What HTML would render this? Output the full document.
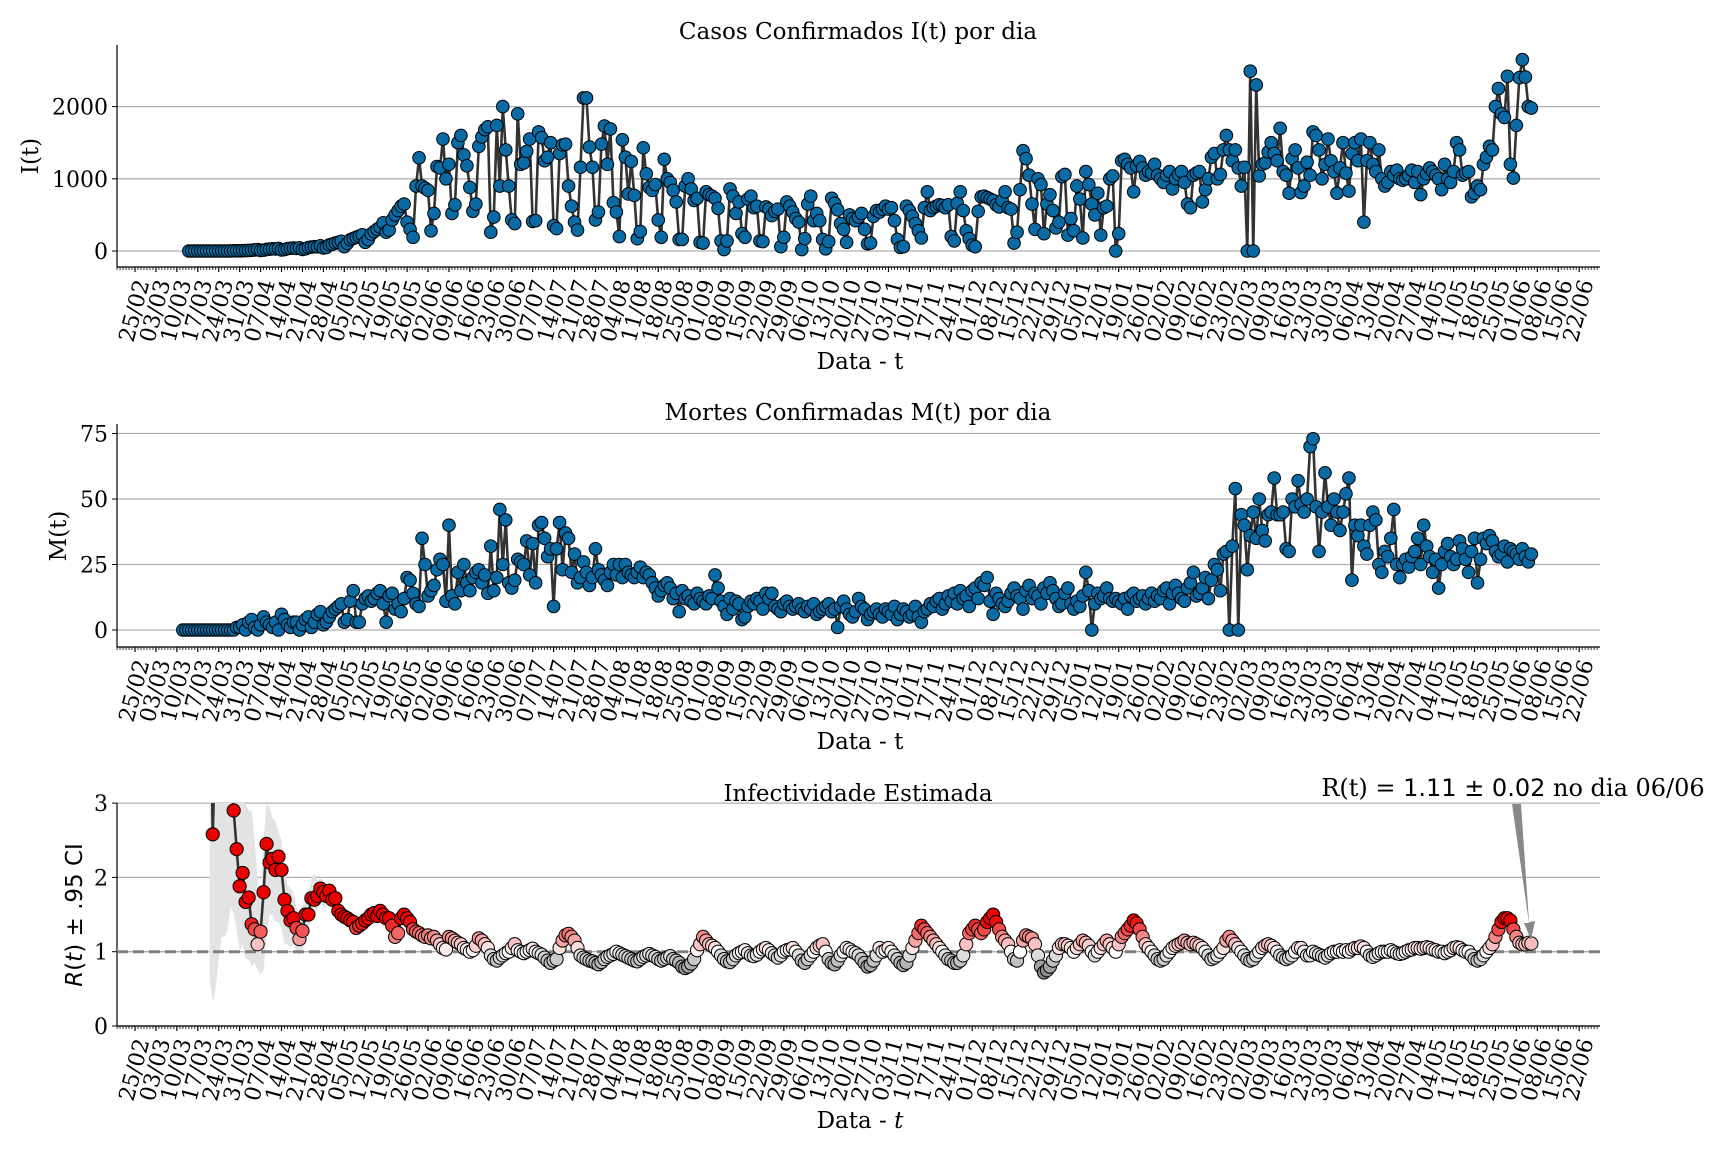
<!DOCTYPE html>
<html><head><meta charset="utf-8"><style>
html,body{margin:0;padding:0;background:#fff;}
svg{display:block;font-family:"DejaVu Serif","Liberation Serif",serif;}
</style></head><body>
<svg id="chart" xmlns="http://www.w3.org/2000/svg" width="1728" height="1152" viewBox="0 0 1728 1152">
<defs><clipPath id="clipR"><rect x="117" y="803" width="1483" height="223"/></clipPath></defs>
<rect width="1728" height="1152" fill="#fff"/>
<text x="858" y="39" font-size="23" text-anchor="middle">Casos Confirmados I(t) por dia</text>
<text x="858" y="420" font-size="23" text-anchor="middle">Mortes Confirmadas M(t) por dia</text>
<text x="858" y="801" font-size="23" text-anchor="middle">Infectividade Estimada</text>
<text transform="translate(38,156) rotate(-90)" font-size="23" text-anchor="middle">I(t)</text>
<text transform="translate(66,536) rotate(-90)" font-size="23" text-anchor="middle">M(t)</text>
<text transform="translate(82,915) rotate(-90)" font-size="23" text-anchor="middle" font-family="DejaVu Sans, sans-serif"><tspan font-style="italic">R</tspan>(<tspan font-style="italic">t</tspan>) ± .95 CI</text>
<text x="860" y="369" font-size="23" text-anchor="middle">Data - t</text>
<text x="860" y="749" font-size="23" text-anchor="middle">Data - t</text>
<text x="860" y="1128" font-size="23" text-anchor="middle">Data - <tspan font-style="italic">t</tspan></text>
<g id="layer"></g>
<polygon points="1512,804 1521,804 1529,922 1535,921 1531,940 1524,923 1529,923" fill="#888"/>
<text x="1513" y="796" font-size="24" text-anchor="middle">R(t) = <tspan font-family="DejaVu Sans, sans-serif">1.11 ± 0.02</tspan> no dia 06/06</text>
</svg>
<script>
// ---- data (daily, ending 06/06/2021) ----
const casesValues = [
0,0,0,0,0,0,0,0,0,0,0,0,0,0,1,2,2,3,5,6,8,
10,15,20,8,12,22,25,30,28,35,15,20,32,38,40,36,45,22,30,48,55,60,58,72,42,50,85,95,110,
120,135,60,105,155,175,190,205,225,120,160,235,270,300,330,390,260,290,430,500,
560,620,650,400,300,190,900,1290,900,870,840,280,
520,1170,1150,1550,1000,1200,520,640,1500,1600,1330,1180,880,550,650,1450,1580,1680,1720,260,470,1740,900,2000,1400,900,430,380,1900,1200,
1220,1380,1550,410,420,1650,1570,1250,1300,1500,350,310,1350,1470,1480,900,620,400,290,1160,2120,2120,1440,1160,430,540,1480,1730,1200,1690,670,
540,200,1540,1300,790,1240,770,170,270,1430,1070,880,840,920,430,190,1270,1000,950,840,680,160,160,900,1000,860,700,730,120,110,820,
780,760,730,590,140,20,140,860,760,520,680,240,190,720,760,600,620,140,130,610,580,490,550,580,60,190,680,620,540,450,
400,20,170,650,760,420,520,420,160,30,130,730,660,570,380,300,120,500,450,420,470,520,300,100,110,480,560,540,580,620,
580,600,420,160,50,60,620,560,480,380,280,180,600,820,560,600,620,640,630,600,640,200,140,660,820,560,280,170,80,60,
550,750,760,740,720,700,640,610,700,820,600,580,110,260,850,1390,1280,1050,650,300,1000,920,240,650,780,560,320,400,1030,1060,220,
450,280,900,720,180,1100,920,650,500,800,220,600,620,1000,1040,0,240,1250,1270,1200,1150,820,1180,1240,1150,1050,1100,1080,1200,1050,1000,
950,1050,1100,860,1000,1060,1100,950,650,600,1050,1080,1100,680,850,1000,1300,1350,1000,1060,1400,1600,1400,1250,1400,1150,900,1160,
0,2490,0,2300,1040,1200,1220,1370,1500,1350,1250,1700,1100,1050,800,1280,1400,1150,810,900,1230,1050,1650,1600,1400,1000,1200,1550,1250,1100,800,
1150,1500,1080,830,1350,1500,1250,1550,400,1250,1500,1200,1100,1400,1000,900,950,1100,1050,1120,1000,980,1000,1050,1120,950,1100,780,1000,1070,
1150,1100,1050,1000,850,1200,1000,950,1100,1500,1400,1050,1080,1100,750,800,900,850,1200,1300,1450,1400,2000,2250,1900,1850,2420,1200,1010,1740,2400,2650,2410,2000,1980];
const deathsValues = [
0,0,0,0,0,0,0,0,0,0,0,0,0,0,0,0,0,0,1,1,
2,0,3,4,1,0,2,5,3,2,1,3,0,6,4,2,1,3,3,0,2,4,5,1,3,6,7,2,3,5,
7,8,9,10,3,4,11,15,3,3,10,12,13,11,12,14,15,10,3,13,14,8,10,7,12,20,19,14,10,9,35,
25,13,15,17,23,27,25,11,40,13,10,22,15,25,18,15,20,22,23,18,21,14,32,15,20,46,25,42,18,16,
19,27,26,25,34,21,33,18,40,41,35,28,31,9,31,41,23,37,35,22,29,18,20,26,22,17,20,31,23,21,19,
17,22,25,21,25,20,25,22,21,20,22,24,20,22,21,18,16,13,15,17,18,16,12,14,7,15,12,13,11,10,14,
12,11,10,13,12,21,16,11,9,6,12,8,11,10,4,5,9,11,10,12,11,8,14,12,14,9,8,7,10,11,
9,8,9,10,8,7,9,8,10,6,7,8,9,10,7,8,1,9,11,8,6,5,7,12,9,8,4,6,7,8,6,
5,8,7,6,9,4,6,8,7,5,6,9,5,3,7,8,10,9,11,12,8,10,13,11,14,10,15,12,13,9,
15,16,12,18,17,20,11,6,14,12,10,9,11,14,16,13,12,8,15,17,12,14,13,10,16,14,18,15,12,9,10,
14,16,10,8,11,9,13,22,15,0,10,14,12,13,16,12,11,12,11,10,12,8,13,14,11,12,13,10,12,14,11,
13,12,15,16,10,14,17,14,12,11,16,18,22,13,14,16,20,12,19,25,23,15,29,30,0,32,54,0,
44,40,23,36,45,35,50,38,34,44,45,58,44,44,45,31,30,50,47,57,48,45,50,70,73,47,30,45,60,47,40,
50,45,38,45,52,58,19,40,36,40,32,29,40,45,42,25,22,30,28,35,46,25,20,25,27,24,28,30,35,25,
40,32,28,22,27,16,25,30,33,28,25,27,34,31,27,22,30,35,18,27,35,33,36,34,30,28,29,32,26,31,30,
29,27,31,28,26,29];
const rValues = [
5.0,2.58,4.0,5.0,5.0,4.5,4.0,3.5,2.9,2.38,
1.88,2.06,1.67,1.73,1.37,1.3,1.1,1.27,1.8,2.45,
2.2,2.25,2.1,2.28,2.1,1.7,1.55,1.42,1.45,1.32,
1.17,1.28,1.5,1.5,1.72,1.7,1.75,1.85,1.8,1.75,
1.82,1.7,1.72,1.55,1.5,1.47,1.45,1.42,1.4,1.32,
1.35,1.38,1.42,1.45,1.5,1.52,1.48,1.55,1.5,1.45,
1.45,1.35,1.2,1.25,1.45,1.5,1.45,1.4,1.3,1.27,
1.25,1.22,1.2,1.22,1.18,1.2,1.15,1.1,1.05,1.03,
1.2,1.18,1.15,1.12,1.1,1.05,1.03,1.0,1.02,1.08,1.18,1.15,1.1,1.05,0.95,0.9,0.88,0.92,0.95,0.98,1.0,1.05,
1.1,1.02,1.0,0.98,1.0,1.02,1.04,1.0,0.98,0.96,0.92,0.88,0.85,0.88,0.9,1.05,1.15,1.22,1.24,1.2,1.15,1.05,0.95,0.92,0.9,0.88,0.87,0.85,0.83,0.86,0.9,
0.93,0.95,0.97,1.0,0.98,0.96,0.94,0.92,0.9,0.88,0.87,0.9,0.93,0.95,0.97,0.95,0.93,0.9,0.88,0.9,0.92,0.94,0.9,0.88,0.85,0.8,0.78,0.8,0.84,0.9,1.02,
1.1,1.2,1.15,1.1,1.08,1.05,1.0,0.95,0.9,0.87,0.86,0.9,0.95,0.98,1.0,1.02,0.98,0.95,0.94,0.96,1.0,1.03,1.05,1.02,0.98,0.95,0.92,0.95,1.0,1.02,
1.03,1.05,1.0,0.95,0.88,0.85,0.9,0.95,1.0,1.05,1.08,1.1,1.0,0.9,0.85,0.83,0.88,0.95,1.0,1.05,1.03,1.0,0.98,0.95,0.9,0.85,0.8,0.82,0.88,0.95,1.05,
1.0,1.02,1.05,1.0,0.95,0.9,0.85,0.82,0.85,0.95,1.05,1.15,1.25,1.35,1.3,1.25,1.2,1.15,1.1,1.05,1.0,0.95,0.9,0.88,0.85,0.85,0.88,0.95,1.1,1.25,
1.3,1.35,1.3,1.25,1.3,1.4,1.45,1.5,1.4,1.3,1.2,1.15,1.1,1.0,0.9,0.88,1.0,1.15,1.22,1.2,1.18,1.1,0.95,0.8,0.72,0.75,0.8,0.88,0.95,1.05,1.1,
1.1,1.08,1.05,1.0,1.05,1.1,1.15,1.12,1.08,1.0,0.95,1.0,1.05,1.1,1.15,1.1,1.05,1.0,1.1,1.2,1.25,1.3,1.35,1.42,1.38,1.3,1.2,1.1,1.05,1.0,0.95,
0.9,0.88,0.9,0.95,1.0,1.05,1.08,1.1,1.12,1.15,1.12,1.1,1.12,1.1,1.08,1.05,1.0,0.95,0.9,0.92,0.95,1.0,1.05,1.15,1.2,1.15,1.1,1.05,
1.0,0.95,0.9,0.88,0.9,0.95,1.0,1.05,1.08,1.1,1.08,1.05,1.0,0.95,0.92,0.9,0.92,0.95,1.0,1.05,1.05,1.0,0.95,0.95,1.0,0.98,0.96,0.94,0.92,0.95,0.98,
1.0,1.0,1.02,1.0,1.02,1.0,1.03,1.05,1.05,1.07,1.05,1.0,0.95,0.93,0.95,0.98,1.0,1.0,1.0,1.02,1.0,0.98,0.97,0.98,1.0,1.02,1.03,1.05,1.05,1.04,
1.05,1.06,1.05,1.03,1.02,1.0,1.0,0.98,1.0,1.02,1.05,1.06,1.05,1.02,1.0,1.0,0.95,0.9,0.88,0.9,0.95,1.0,1.05,1.1,1.2,1.3,1.4,1.45,1.45,1.42,1.3,
1.2,1.12,1.1,1.1,1.12,1.11];
const ciLow = [0.6,0.33,0.5,0.9,1.2,1.2,1.3,1.6,1.5,1.3,1.0,1.1,0.9,0.9,0.8,0.85,0.75,0.7,0.75,1.2,1.5,1.5,1.4,1.4,1.3,1.1,1.1,1.05,1.1,1.0,0.95,1.05,1.25,1.3,1.45,1.5,1.55,1.65,1.6,1.6];
const ciHigh = [5,5,5,5,5,5,5,5,5,4,3.5,3.3,3.0,2.9,2.9,2.5,2.0,1.7,2.5,3.0,2.95,2.8,2.75,2.6,2.5,2.1,1.9,1.85,1.8,1.6,1.5,1.6,1.8,1.8,2.0,2.05,1.95,2.0,1.95,1.9];
const casesTicks = [0,1000,2000];
const deathsTicks = [0,25,50,75];
const rTicks = [0,1,2,3];
const lastDayOffset = 467; // 06/06/2021 counted from 25/02/2020

// ---- layout ----
const NS = "http://www.w3.org/2000/svg";
const layer = document.getElementById('layer');
const X0 = 135, DX = 2.99, LEFT = 117, RIGHT = 1600;
function xScale(off){ return X0 + off*DX; }
const panels = [
 {key:'cases', top:45, bot:267, y:v=>251 - v*0.0722, ticks:casesTicks, data:casesValues},
 {key:'deaths', top:424, bot:647, y:v=>630 - v*2.62, ticks:deathsTicks, data:deathsValues},
 {key:'r', top:803, bot:1026, y:v=>1026 - v*74.3, ticks:rTicks, data:rValues}
];
function mk(tag, attrs, parent){
  const e = document.createElementNS(NS, tag);
  for (const k in attrs) e.setAttribute(k, attrs[k]);
  (parent||layer).appendChild(e); return e;
}
function dateLabel(off){
  const d = new Date(Date.UTC(2020,1,25) + off*86400000);
  return String(d.getUTCDate()).padStart(2,'0') + '/' + String(d.getUTCMonth()+1).padStart(2,'0');
}
panels.forEach(p=>{
  const g = mk('g', {});
  
  
  p.ticks.forEach(t=>{
    const y = p.y(t);
    const gl = mk('line', {x1:LEFT, x2:RIGHT, y1:y, y2:y, stroke:'#b0b0b0', 'stroke-width':1.3}, g);
    
    
    mk('line', {x1:LEFT-5, x2:LEFT, y1:y, y2:y, stroke:'#000', 'stroke-width':1}, g);
    const tl = mk('text', {x:LEFT-9, y:y+8, 'font-size':22, 'text-anchor':'end'}, g);
    tl.textContent = t;
    
    
  });
  for (let off=-6; off<=489; off++){
    const x = xScale(off);
    const major = ((off % 7) + 7) % 7 === 0 && off>=0 && off<=483;
    mk('line', {x1:x, x2:x, y1:p.bot, y2:p.bot + (major?5:3), stroke:'#000', 'stroke-width':major?1.2:0.8}, g);
    if (major){
      const cy = p.bot + 44;
      const lab = mk('text', {x:x, y:cy, 'font-size':22, 'text-anchor':'middle', 'dominant-baseline':'central', transform:'rotate(-75 '+x+' '+cy+')'}, g);
      lab.textContent = dateLabel(off);
      
      
    }
  }
  const sp = mk('path', {d:'M'+LEFT+' '+p.top+' L'+LEFT+' '+p.bot+' L'+RIGHT+' '+p.bot, fill:'none', stroke:'#000', 'stroke-width':1.2}, g);
  
  
});

function seriesPoints(p){
  const n = p.data.length, start = lastDayOffset - (n-1);
  return p.data.map((v,i)=>[xScale(start+i), p.y(v)]);
}
[panels[0], panels[1]].forEach(p=>{
  const pts = seriesPoints(p);
  const ln = mk('polyline', {points:pts.map(q=>q.join(',')).join(' '), fill:'none', stroke:'#333', 'stroke-width':2.6, 'stroke-linejoin':'round'});
  
  
  pts.forEach(q=>{
    const c = mk('circle', {cx:q[0], cy:q[1], r:6.3, fill:'#0a6ba4', stroke:'#000', 'stroke-width':1});
    
    
  });
});
(function(){
  const p = panels[2];
  const gc = mk('g', {'clip-path':'url(#clipR)'});
  
  
  const n = rValues.length, start = lastDayOffset - (n-1);
  const up = [], dn = [];
  rValues.forEach((v,i)=>{
    const x = xScale(start+i);
    const hi = i < ciHigh.length ? ciHigh[i] : v + 0.03;
    const lo = i < ciLow.length ? ciLow[i] : v - 0.03;
    up.push(x+','+p.y(hi)); dn.unshift(x+','+p.y(lo));
  });
  const band = mk('polygon', {points:up.concat(dn).join(' '), fill:'#e3e3e3', stroke:'none'}, gc);
  
  
  const ref = mk('line', {x1:LEFT, x2:RIGHT, y1:p.y(1), y2:p.y(1), stroke:'#808080', 'stroke-width':3, 'stroke-dasharray':'11,5'}, gc);
  
  
  const pts = rValues.map((v,i)=>[xScale(start+i), p.y(v)]);
  const ln = mk('polyline', {points:pts.map(q=>q.join(',')).join(' '), fill:'none', stroke:'#333', 'stroke-width':2.6}, gc);
  
  
  function col(v){
    let r,g,b;
    if (v>=1){ const t=Math.min((v-1)/0.42,1); r=255-t*20; g=255*(1-t); b=255*(1-t); }
    else { const t=Math.min((1-v)/0.28,1); r=g=b=240-t*110; }
    return 'rgb('+Math.round(r)+','+Math.round(g)+','+Math.round(b)+')';
  }
  pts.forEach((q,i)=>{
    const c = mk('circle', {cx:q[0], cy:q[1], r:6.6, fill:col(rValues[i]), stroke:'#000', 'stroke-width':1}, gc);
    
    
  });
})();
</script>
</body></html>
